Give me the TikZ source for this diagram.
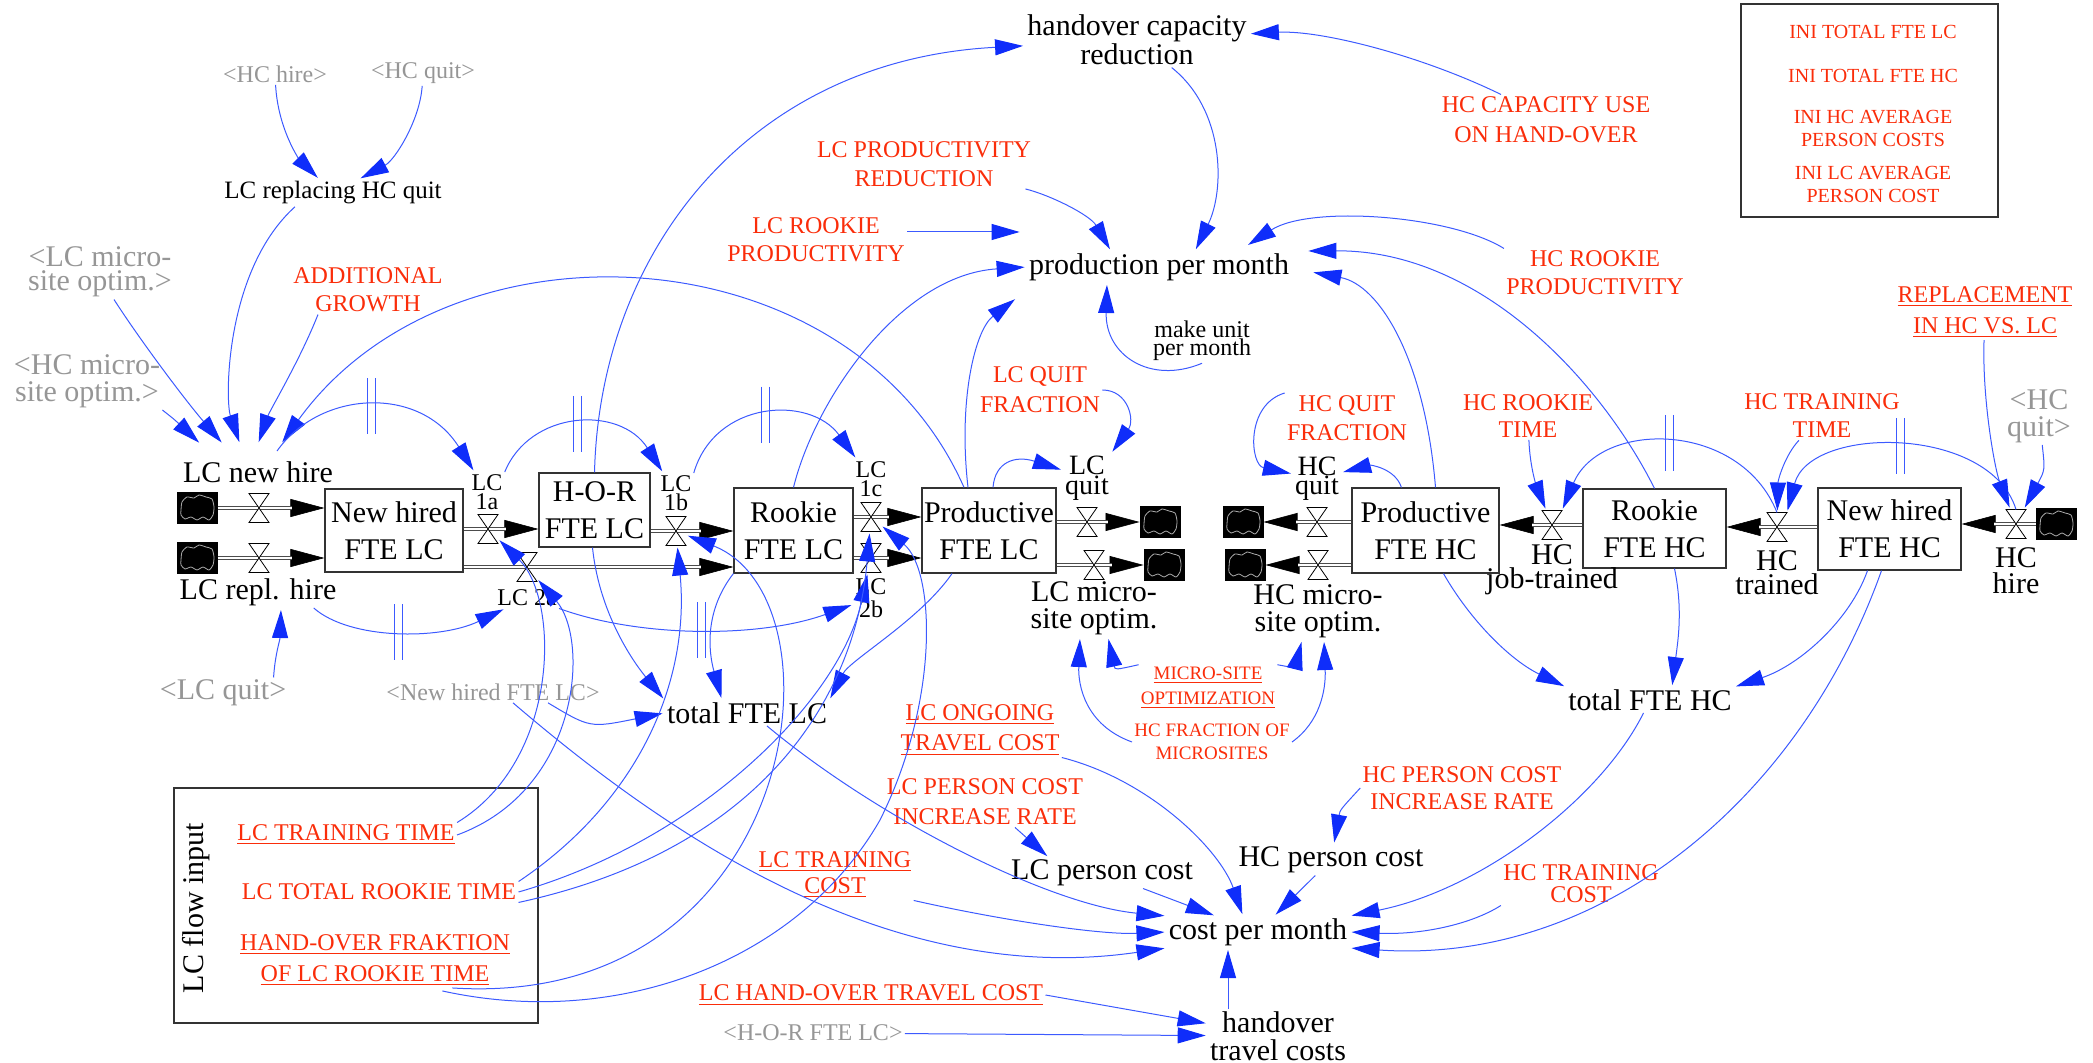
\documentclass[tikz,border=0pt]{standalone}
\usepackage{fontspec}
\setmainfont{Liberation Serif}
\usetikzlibrary{arrows.meta,calc}
\definecolor{vred}{RGB}{250,45,10}
\definecolor{hblue}{RGB}{15,45,250}
\definecolor{lblue}{RGB}{60,90,255}
\definecolor{vgray}{RGB}{150,150,150}
\definecolor{cgray}{RGB}{170,170,170}
\tikzset{
  lab/.style={font=\fontsize{15}{13}\selectfont, align=center, inner sep=1pt},
  sml/.style={font=\fontsize{12}{9.5}\selectfont, align=center, inner sep=1pt},
  rtxt/.style={text=vred, font=\fontsize{12}{14.5}\selectfont, align=center, inner sep=1pt},
  gtxt/.style={text=vgray, font=\fontsize{12}{13}\selectfont, align=center, inner sep=1pt},
  stock/.style={draw=black!80, line width=0.6pt, align=center, font=\fontsize{15}{18.5}\selectfont, inner sep=0pt},
  frm/.style={draw=black!80, line width=0.6pt, inner sep=0pt},
  valvebox/.style={inner sep=0pt, outer sep=0pt, minimum width=10pt, minimum height=14.5pt},
  cloudbox/.style={fill=black, inner sep=0pt, outer sep=0pt, minimum width=20.5pt, minimum height=16pt},
  cloudline/.style={draw=cgray, line width=0.4pt},
  pipe/.style={draw=black!70, line width=0.45pt, double=white, double distance=1.4pt},
  fltip/.style={draw=black, line width=0.3pt, -{Triangle[length=17pt,width=9pt]}},
  link/.style={draw=lblue, line width=0.5pt, -{Triangle[length=14pt,width=8pt,color=hblue]}, shorten >=1pt},
  dmark/.style={draw=lblue, line width=0.5pt},
}
\newcommand\myvalve[1]{\filldraw[fill=white,draw=black,line width=0.4pt] (#1.north west) -- (#1.north east) -- (#1.south west) -- (#1.south east) -- cycle;}
\newcommand\mycloud[3]{\node[cloudbox] (#1) at (#2,#3) {};
  \draw[cloudline, shift={(#1.center)}] plot[smooth cycle, tension=0.4] coordinates {(-16,2) (-15,-6) (-10,-11) (-3,-10) (2,-13) (9,-11) (15,-9) (17,-1) (16,7) (12,12) (6,9) (0,12) (-6,9) (-12,11) (-16,7)};}
\newcommand\flowline[2]{\draw[fltip] #1 -- #2; \draw[pipe, shorten >=16pt] #1 -- #2;}
\newcommand\dmk[1]{\draw[dmark] ($(#1)+(-4,-28)$) -- ($(#1)+(-4,28)$); \draw[dmark] ($(#1)+(4,-28)$) -- ($(#1)+(4,28)$);}

\begin{document}
\begin{tikzpicture}[x=0.5pt,y=-0.5pt]
\useasboundingbox (0,0) rectangle (2093,1063);

% ---------- stocks
\node[stock, minimum width=69pt, minimum height=41.5pt] (nhLC) at (394,530.5) {New hired\\FTE LC};
\node[stock, minimum width=55.5pt, minimum height=37pt] (hor) at (594.5,510) {H-O-R\\FTE LC};
\node[stock, minimum width=59.5pt, minimum height=42.5pt] (rkLC) at (793.5,530.5) {Rookie\\FTE LC};
\node[stock, minimum width=67pt, minimum height=42.5pt] (prLC) at (989,530.5) {Productive\\FTE LC};
\node[stock, minimum width=73.5pt, minimum height=42.5pt] (prHC) at (1425.5,530.5) {Productive\\FTE HC};
\node[stock, minimum width=71.5pt, minimum height=39.5pt] (rkHC) at (1654.5,528.5) {Rookie\\FTE HC};
\node[stock, minimum width=71.5pt, minimum height=41pt] (nhHC) at (1889.5,529) {New hired\\FTE HC};

% ---------- clouds
\mycloud{c1}{197}{508}
\mycloud{c2}{197}{558}
\mycloud{c3}{1160}{522}
\mycloud{c4}{1164}{565}
\mycloud{c5}{1243}{522}
\mycloud{c6}{1245}{565}
\mycloud{c7}{2056}{524}

% ---------- valve positions
\node[valvebox] (vnh) at (259,508) {};
\node[valvebox] (vrh) at (259,558) {};
\node[valvebox] (v1a) at (488,529) {};
\node[valvebox] (v2a) at (527,567) {};
\node[valvebox] (v1b) at (676,531) {};
\node[valvebox] (v1c) at (871,517) {};
\node[valvebox] (v2b) at (871,558) {};
\node[valvebox] (vlq) at (1087,522) {};
\node[valvebox] (vlm) at (1094,565) {};
\node[valvebox] (vhq) at (1317,522) {};
\node[valvebox] (vhm) at (1318,565) {};
\node[valvebox] (vjt) at (1552,525) {};
\node[valvebox] (vht) at (1777,527) {};
\node[valvebox] (vhh) at (2016,524) {};

% ---------- pipes
\flowline{(c1.east)}{(nhLC.west |- c1.east)}
\flowline{(c2.east)}{(nhLC.west |- c2.east)}
\flowline{(nhLC.east |- v1a)}{(hor.west |- v1a)}
\flowline{(nhLC.east |- v2a)}{(rkLC.west |- v2a)}
\flowline{(hor.east |- v1b)}{(rkLC.west |- v1b)}
\flowline{(rkLC.east |- v1c)}{(prLC.west |- v1c)}
\flowline{(rkLC.east |- v2b)}{(prLC.west |- v2b)}
\flowline{(prLC.east |- vlq)}{(c3.west)}
\flowline{(prLC.east |- vlm)}{(c4.west)}
\flowline{(prHC.west |- vhq)}{(c5.east)}
\flowline{(prHC.west |- vhm)}{(c6.east)}
\flowline{(rkHC.west |- vjt)}{(prHC.east |- vjt)}
\flowline{(nhHC.west |- vht)}{(rkHC.east |- vht)}
\flowline{(c7.west)}{(nhHC.east |- c7.west)}

\myvalve{vnh}\myvalve{vrh}\myvalve{v1a}\myvalve{v2a}\myvalve{v1b}\myvalve{v1c}\myvalve{v2b}
\myvalve{vlq}\myvalve{vlm}\myvalve{vhq}\myvalve{vhm}\myvalve{vjt}\myvalve{vht}\myvalve{vhh}

% ---------- valve labels
\node[lab] (lnh) at (258,472) {LC new hire};
\node[lab] (lrh) at (258,592) {LC repl. hire};
\node[sml] (l1a) at (487,492) {LC\\1a};
\node[sml] (l2a) at (527,598) {LC 2a};
\node[sml] (l1b) at (676,493) {LC\\1b};
\node[sml] (l1c) at (871,479) {LC\\1c};
\node[sml, font=\fontsize{12}{11.5}\selectfont] (l2b) at (871,598) {LC\\2b};
\node[lab, font=\fontsize{14}{10}\selectfont] (llq) at (1087,478) {LC\\quit};
\node[lab, font=\fontsize{15}{13.5}\selectfont] (llm) at (1094,608) {LC micro-\\site optim.};
\node[lab, font=\fontsize{14}{9.5}\selectfont] (lhq) at (1317,479) {HC\\quit};
\node[lab, font=\fontsize{15}{13.5}\selectfont] (lhm) at (1318,611) {HC micro-\\site optim.};
\node[lab, font=\fontsize{15}{12}\selectfont] (ljt) at (1552,570) {HC\\job-trained};
\node[lab, font=\fontsize{15}{12}\selectfont] (lht) at (1777,573) {HC\\trained};
\node[lab, font=\fontsize{15}{13}\selectfont] (lhh) at (2016,571) {HC\\hire};

% ---------- auxiliaries
\node[lab] (hcr) at (1137,40) {handover capacity\\reduction};
\node[rtxt] (lcpr) at (924,164) {LC PRODUCTIVITY\\REDUCTION};
\node[rtxt, font=\fontsize{12}{14}\selectfont] (lcrp) at (816,240) {LC ROOKIE\\PRODUCTIVITY};
\node[lab] (ppm) at (1159,267) {production per month};
\node[rtxt, font=\fontsize{12}{15}\selectfont] (hccu) at (1546,120) {HC CAPACITY USE\\ON HAND-OVER};
\node[rtxt, font=\fontsize{12}{14}\selectfont] (hcrp) at (1595,273) {HC ROOKIE\\PRODUCTIVITY};
\node[lab, font=\fontsize{12}{9}\selectfont] (mupm) at (1202,341) {make unit\\per month};
\node[rtxt, font=\fontsize{12}{15.5}\selectfont] (repl) at (1985,312) {\underline{REPLACEMENT}\\\underline{IN HC VS. LC}};
\node[gtxt] (hchire) at (275,74) {<HC hire>};
\node[gtxt] (hcqA) at (423,73) {<HC quit>};
\node[lab, font=\fontsize{12.5}{13}\selectfont] (lcrhq) at (333,193) {LC replacing HC quit};
\node[gtxt, font=\fontsize{15}{12}\selectfont] (lcmsoA) at (100,272) {<LC micro-\\site optim.>};
\node[gtxt, font=\fontsize{15}{13.5}\selectfont] (hcmsoA) at (87,381) {<HC micro-\\site optim.>};
\node[rtxt, font=\fontsize{12}{14}\selectfont] (addg) at (368,290) {ADDITIONAL\\GROWTH};
\node[gtxt, font=\fontsize{15}{13}\selectfont] (lcqg) at (223,693) {<LC quit>};
\node[gtxt] (nhLCg) at (493,692) {<New hired FTE LC>};
\node[lab] (tfl) at (747,713) {total FTE LC};
\node[rtxt, font=\fontsize{12}{15}\selectfont] (lcqf) at (1040,390) {LC QUIT\\FRACTION};
\node[rtxt] (hcqf) at (1347,418) {HC QUIT\\FRACTION};
\node[rtxt, font=\fontsize{12}{13.5}\selectfont] (hcrt) at (1528,416) {HC ROOKIE\\TIME};
\node[rtxt, font=\fontsize{12}{14}\selectfont] (hctt) at (1822,416) {HC TRAINING\\TIME};
\node[gtxt, font=\fontsize{15}{13.5}\selectfont] (hcqB) at (2039,416) {<HC\\quit>};
\node[rtxt, font=\fontsize{9.5}{12.5}\selectfont] (mso) at (1208,688) {\underline{MICRO-SITE}\\\underline{OPTIMIZATION}};
\node[rtxt, font=\fontsize{9.5}{11.5}\selectfont] (hcfm) at (1212,742) {HC FRACTION OF\\MICROSITES};
\node[lab] (tfh) at (1650,700) {total FTE HC};
\node[rtxt, font=\fontsize{12}{15}\selectfont] (lcotc) at (980,730) {\underline{LC ONGOING}\\\underline{TRAVEL COST}};
\node[rtxt, font=\fontsize{12}{15}\selectfont] (lcpcir) at (985,802) {LC PERSON COST\\INCREASE RATE};
\node[lab] (lcpc) at (1102,873) {LC person cost};
\node[lab] (hcpc) at (1331,860) {HC person cost};
\node[rtxt, font=\fontsize{12}{13.5}\selectfont] (hcpcir) at (1462,788) {HC PERSON COST\\INCREASE RATE};
\node[lab] (cpm) at (1258,932) {cost per month};
\node[rtxt, font=\fontsize{12}{13}\selectfont] (lctc) at (835,875) {\underline{LC TRAINING}\\\underline{COST}};
\node[rtxt, font=\fontsize{12}{11}\selectfont] (hctc) at (1581,884) {HC TRAINING\\COST};
\node[rtxt] (lchotc) at (871,995) {\underline{LC HAND-OVER TRAVEL COST}};
\node[gtxt] (horg) at (813,1033) {<H-O-R FTE LC>};
\node[lab, font=\fontsize{15}{14}\selectfont] (htc) at (1278,1036) {handover\\travel costs};

% ---------- LC flow input box
\node[frm, minimum width=182pt, minimum height=117.5pt] (lcfbox) at (356,905.5) {};
\node[lab, rotate=90] (lcfi) at (196,908) {LC flow input};
\node[rtxt] (lctt) at (346,835) {\underline{LC TRAINING TIME}};
\node[rtxt] (lctrt) at (379,892) {LC TOTAL ROOKIE TIME};
\node[rtxt, font=\fontsize{12}{15.5}\selectfont] (hof) at (375,960) {\underline{HAND-OVER FRAKTION}\\\underline{OF LC ROOKIE TIME}};

% ---------- INI box
\node[frm, minimum width=128.5pt, minimum height=106.5pt] (inibox) at (1869.5,110.5) {};
\node[rtxt, font=\fontsize{10}{11.5}\selectfont] (ini1) at (1873,32) {INI TOTAL FTE LC};
\node[rtxt, font=\fontsize{10}{11.5}\selectfont] (ini2) at (1873,76) {INI TOTAL FTE HC};
\node[rtxt, font=\fontsize{10}{11.5}\selectfont] (ini3) at (1873,128) {INI HC AVERAGE\\PERSON COSTS};
\node[rtxt, font=\fontsize{10}{11.5}\selectfont] (ini4) at (1873,184) {INI LC AVERAGE\\PERSON COST};

% ---------- links: LC new hire
\draw[link] (hchire) .. controls (278,130) and (300,160) .. (lcrhq);
\draw[link] (hcqA) .. controls (420,120) and (395,160) .. (lcrhq);
\draw[link] ($(lcrhq.south)+(-38,0)$) .. controls (225,270) and (225,400) .. ($(lnh.north)+(-18,-15)$);
\draw[link] ($(lcmsoA.south)+(14,0)$) .. controls (140,340) and (185,400) .. ($(lnh.north)+(-35,-15)$);
\draw[link] (hcmsoA.south east) .. controls (175,420) .. ($(lnh.north west)+(20,-15)$);
\draw[link] ($(addg.south)+(-50,0)$) .. controls (300,360) and (270,410) .. ($(lnh.north)+(0,-15)$);
\draw[link] ($(prLC.north)+(-25,0)$) .. controls (850,230) and (450,210) .. ($(lnh.north)+(23,-15)$);
\draw[link] ($(lcqg.north east)+(-15,0)$) .. controls (275,655) and (280,640) .. ($(lrh.south)+(23,0)$);

% ---------- delay arcs
\draw[link] ($(lnh.north)+(19,-8)$) .. controls (320,390) and (420,385) .. (l1a) coordinate[pos=0.5] (d1);
\draw[link] (l1a.north east) .. controls (530,410) and (620,405) .. (l1b) coordinate[pos=0.5] (d2);
\draw[link] (l1b.north east) .. controls (715,400) and (810,395) .. (l1c) coordinate[pos=0.5] (d3);
\draw[link] ($(lrh.south east)+(-25,0)$) .. controls (350,640) and (440,640) .. (l2a) coordinate[pos=0.5] (d4);
\draw[link] (l2a.south east) .. controls (640,638) and (760,638) .. (l2b) coordinate[pos=0.5] (d5);
\draw[link] (vht.north) .. controls (1740,420) and (1600,420) .. (vjt.north east) coordinate[pos=0.5] (d6);
\draw[link] (vhh.north) .. controls (1990,425) and (1810,425) .. (vht.north east) coordinate[pos=0.5] (d7);
\dmk{d1}\dmk{d2}\dmk{d3}\dmk{d4}\dmk{d5}\dmk{d6}\dmk{d7}

% ---------- production per month
\draw[link] (hcr) .. controls (1225,110) and (1225,190) .. ($(ppm.north)+(36,0)$);
\draw[link] (lcpr) .. controls (1050,195) and (1090,215) .. ($(ppm.north)+(-48,0)$);
\draw[link] ($(lcrp.east)+(0,-8)$) -- ($(ppm.west)+(-5,-35)$);
\draw[link] (rkLC.north) .. controls (815,400) and (900,275) .. (ppm.west);
\draw[link] ($(prLC.north)+(-21,0)$) .. controls (958,400) and (975,330) .. ($(ppm.south west)+(-10,15)$);
\draw[link] (mupm.south) .. controls (1150,385) and (1105,355) .. ($(ppm.south)+(-52,0)$);
\draw[link] (hcrp.north west) .. controls (1450,215) and (1310,205) .. ($(ppm.north east)+(-45,-5)$);
\draw[link] (rkHC.north) .. controls (1600,380) and (1480,250) .. ($(ppm.north east)+(15,0)$);
\draw[link] ($(prHC.north)+(10,0)$) .. controls (1425,360) and (1380,285) .. ($(ppm.east)+(20,5)$);

% ---------- handover capacity reduction
\draw[link] (hor.north) .. controls (600,250) and (750,60) .. (hcr);
\draw[link] ($(hccu.north)+(-45,0)$) .. controls (1420,55) and (1320,30) .. (hcr);

% ---------- quits
\draw[link] ($(prLC.north)+(4,0)$) .. controls (995,462) and (1015,455) .. (llq);
\draw[link] (lcqf.east) .. controls (1128,390) and (1135,420) .. (llq.north east);
\draw[link] (hcqf.north west) .. controls (1245,405) and (1250,465) .. (lhq);
\draw[link] ($(prHC.north west)+(50,0)$) .. controls (1395,468) and (1370,465) .. (lhq);

% ---------- micro-site
\draw[link] (mso.north west) .. controls (1115,670) .. ($(llm.south)+(14,0)$);
\draw[link] (mso.north east) .. controls (1295,668) .. ($(lhm.south)+(-16,0)$);
\draw[link] (hcfm.west) .. controls (1085,725) and (1078,685) .. ($(llm.south)+(-14,0)$);
\draw[link] (hcfm.east) .. controls (1320,722) and (1326,690) .. ($(lhm.south)+(6,0)$);

% ---------- HC flows
\draw[link] (hcrt) .. controls (1530,470) and (1538,490) .. (vjt);
\draw[link] (hctt) .. controls (1785,455) and (1778,480) .. (vht);
\draw[link] (repl) .. controls (1982,400) and (1995,470) .. (vhh);
\draw[link] (hcqB) .. controls (2045,470) .. (vhh);

% ---------- totals
\draw[link] ($(prHC.south)+(18,0)$) .. controls (1470,620) and (1510,660) .. (tfh.north west);
\draw[link] ($(rkHC.south)+(20,0)$) .. controls (1683,610) and (1678,640) .. ($(tfh.north)+(22,0)$);
\draw[link] ($(nhHC.south)+(-22,0)$) .. controls (1850,620) and (1800,665) .. (tfh.north east);
\draw[link] ($(nhLCg.south)+(55,0)$) .. controls (590,728) .. (tfl.west);
\draw[link] ($(hor.south)+(-2,0)$) .. controls (600,620) and (640,670) .. (tfl.north west);
\draw[link] (rkLC.south west) .. controls (705,610) and (708,650) .. ($(tfl.north)+(-25,0)$);
\draw[link] ($(prLC.south)+(-37,0)$) .. controls (920,620) and (850,660) .. (tfl.north east);

% ---------- cost per month
\draw[link] (tfh) .. controls (1600,800) and (1480,890) .. (cpm.north east);
\draw[link] ($(nhHC.south)+(-8,0)$) .. controls (1800,800) and (1600,965) .. (cpm.south east);
\draw[link] (hctc.south west) .. controls (1470,925) and (1420,935) .. (cpm.east);
\draw[link] (hcpcir.west) .. controls (1340,810) .. (hcpc);
\draw[link] (hcpc) -- (cpm);
\draw[link] (lcpc) -- (cpm);
\draw[link] ($(lcpcir.south)+(30,0)$) -- ($(lcpc.north west)+(40,0)$);
\draw[link] (lcotc.south east) .. controls (1150,780) and (1220,850) .. ($(cpm.north)+(-15,0)$);
\draw[link] ($(tfl.south)+(20,0)$) .. controls (880,820) and (1050,905) .. (cpm.north west);
\draw[link] (lctc.south east) .. controls (1000,920) and (1100,935) .. (cpm.west);
\draw[link] ($(nhLCg.south)+(20,0)$) .. controls (650,820) and (880,990) .. (cpm.south west);
\draw[link] (horg) -- (htc);
\draw[link] (lchotc.east) -- (htc);
\draw[link] ($(htc.north)+(-50,0)$) -- ($(cpm.south)+(-30,0)$);

% ---------- LC flow input links
\draw[link] (lctt.north east) .. controls (560,760) and (560,600) .. (v1a);
\draw[link] (lctt.east) .. controls (580,790) and (590,640) .. (v2a);
\draw[link] (lctrt.north east) .. controls (640,800) and (690,680) .. (v1b);
\draw[link] (lctrt.east) .. controls (700,840) and (840,700) .. (v2b);
\draw[link] (lctrt.south east) .. controls (760,850) and (855,700) .. (v1c);
\draw[link] ($(hof.south east)+(-60,0)$) .. controls (800,1010) and (850,600) .. (v1b);
\draw[link] ($(hof.south east)+(-70,3)$) .. controls (620,1030) and (800,960) .. (880,820) .. controls (940,700) and (935,570) .. (v1c);
\end{tikzpicture}
\end{document}
